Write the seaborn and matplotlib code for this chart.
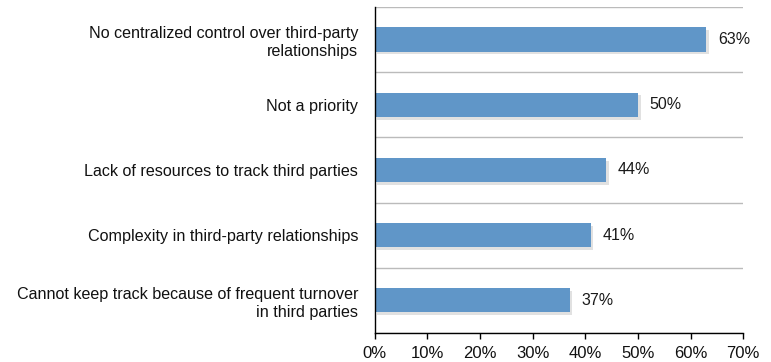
import matplotlib
matplotlib.use("Agg")
import matplotlib.pyplot as plt
import matplotlib.patheffects as pe
from matplotlib.ticker import FixedLocator, PercentFormatter
import seaborn as sns
import pandas as pd

categories = [
    "No centralized control over third-party\nrelationships",
    "Not a priority",
    "Lack of resources to track third parties",
    "Complexity in third-party relationships",
    "Cannot keep track because of frequent turnover\nin third parties",
]
values = [63, 50, 44, 41, 37]
xticks = [0, 10, 20, 30, 40, 50, 60, 70]

df = pd.DataFrame({"category": categories, "value": values})

sns.set_theme(style="white")
plt.rcParams["font.family"] = ["Liberation Sans", "DejaVu Sans"]

fig = plt.figure(figsize=(7.71, 3.62), dpi=100)
ax = fig.add_axes([0.486, 0.080, 0.478, 0.901])

sns.barplot(data=df, x="value", y="category", orient="h", color="#6096C8",
            saturation=1, width=0.37, ax=ax, edgecolor="none")

for p in ax.patches:
    p.set_path_effects([pe.SimplePatchShadow(offset=(2, -2), alpha=0.25, shadow_rgbFace="#888888"),
                        pe.Normal()])

for p, v in zip(ax.patches, values):
    ax.text(p.get_width() + 2.2, p.get_y() + p.get_height() / 2, f"{v}%",
            va="center", ha="left", fontsize=11.5, color="#1a1a1a")

ax.set_xlim(0, 70)
ax.set_ylim(len(categories) - 0.5, -0.5)
ax.set_xticks(xticks)
ax.xaxis.set_major_formatter(PercentFormatter(decimals=0))
ax.set_xlabel("")
ax.set_ylabel("")

# boundaries between categories
bounds = [i - 0.5 for i in range(len(categories) + 1)]
ax.yaxis.set_minor_locator(FixedLocator(bounds))
ax.grid(False)
ax.yaxis.grid(True, which="minor", color="#BBBBBB", linewidth=1)
ax.tick_params(axis="y", which="major", length=0, pad=12, labelsize=11.6, labelcolor="#111111")
ax.tick_params(axis="y", which="minor", length=5, width=1, color="black", direction="inout")
ax.tick_params(axis="x", which="major", length=4, width=1, color="black", direction="out",
               labelsize=12, labelcolor="#111111", pad=5, bottom=True)

for lbl in ax.get_yticklabels():
    lbl.set_ha("right")
    lbl.set_multialignment("right")
    lbl.set_linespacing(1.22)

for s in ["top", "right"]:
    ax.spines[s].set_visible(False)
for s in ["left", "bottom"]:
    ax.spines[s].set_color("black")
    ax.spines[s].set_linewidth(1)

fig.savefig("out.png", dpi=100)
